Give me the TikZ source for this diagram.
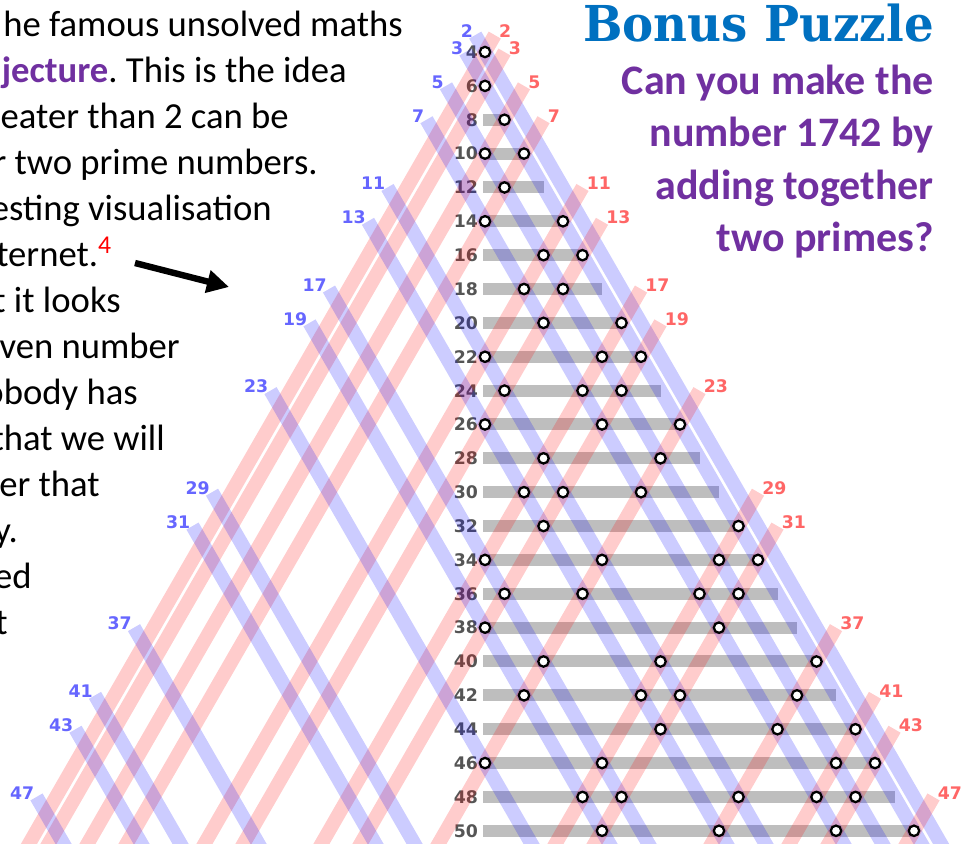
\documentclass[tikz,border=0pt]{standalone}
\usepackage{fontspec}
\setmainfont{Carlito}
\newfontfamily\numfont{DejaVu Sans}
\newfontfamily\titlefont{DejaVu Serif}
\usetikzlibrary{calc,positioning,arrows.meta}
\frenchspacing
\definecolor{stripeblue}{RGB}{0,0,255}
\definecolor{stripered}{RGB}{255,0,0}
\definecolor{labblue}{RGB}{102,102,255}
\definecolor{labred}{RGB}{255,102,102}
\definecolor{rowgray}{RGB}{85,85,85}
\definecolor{bargray}{RGB}{190,190,190}
\definecolor{titleblue}{RGB}{0,112,192}
\definecolor{puzzlepurple}{RGB}{112,48,160}
\newcommand{\primelist}{2,3,5,7,11,13,17,19,23,29,31,37,41,43,47}

\tikzset{
  bluestripe/.style={draw=stripeblue, opacity=0.2, line width=10.5pt},
  redstripe/.style={draw=stripered, opacity=0.2, line width=10.5pt},
  sumbar/.style={draw=bargray, line width=9pt},
  sumdot/.style={circle, draw=black, fill=white, line width=1.7pt, minimum size=7.8pt, inner sep=0pt},
  rowlabel/.style={font=\numfont\bfseries\fontsize{13}{13}\selectfont, text=rowgray, inner sep=0pt, anchor=east},
  primelabel/.style={font=\numfont\bfseries\fontsize{13}{13}\selectfont, inner sep=0pt},
  bodytext/.style={font=\fontsize{27.5}{33}\selectfont, inner sep=0pt, anchor=base east},
  puzzletext/.style={font=\bfseries\fontsize{31.5}{38}\selectfont, text=puzzlepurple, inner sep=0pt, anchor=base east},
}

\begin{document}
\begin{tikzpicture}[x=0.75pt, y=-0.75pt]
\useasboundingbox (0,0) rectangle (966,843);
\clip (0,0) rectangle (966,843);

% the triangle: d = q-p across, n = p+q down
\begin{scope}[shift={(485,-15.72)}, x=7.3125pt, y=-12.6975pt]
  \foreach \n in {8,10,...,50}
    \draw[sumbar] (-0.2,\n) -- (\n-6,\n);
  \foreach \n in {4,6,...,50}
    \node[rowlabel] (row\n) at (-0.7,\n) {\n};
  \foreach \p in \primelist {
    \draw[redstripe] (\p-1,\p+1) -- (2*\p-53,53);
    \draw[bluestripe] (1-\p,\p+1) -- (53-2*\p,53);
  }
  \foreach \p in \primelist {
    \foreach \q in \primelist {
      \pgfmathtruncatemacro{\s}{\p+\q}
      \pgfmathtruncatemacro{\ok}{(\p<=\q)&&(mod(\s,2)==0)&&(\s<=50)}
      \ifnum\ok=1
        \node[sumdot] (dot\p-\q) at (\q-\p,\s) {};
      \fi
    }
  }
  \foreach \p in \primelist {
    \node[primelabel, text=labblue, anchor=east, xshift=-1.5pt, yshift=3pt] (pb\p) at (1-\p,\p+1) {\p};
    \node[primelabel, text=labred, anchor=west, xshift=3pt, yshift=3pt] (pr\p) at (\p-1,\p+1) {\p};
  }
\end{scope}

% text on the left (cut off by the page edge)
\node[bodytext] (txt1) at (403,36) {he famous unsolved maths};
\node[bodytext] (txt2) at (347,82) {\textbf{\color{puzzlepurple}jecture}. This is the idea};
\node[bodytext] (txt3) at (289,128) {eater than 2 can be};
\node[bodytext] (txt4) at (318,174) {r two prime numbers.};
\node[bodytext] (txt5) at (272,220) {esting visualisation};
\node[bodytext] (txt6) at (112,266) {ternet.\textsuperscript{\color{red}4}};
\node[bodytext] (txt7) at (121,312) {t it looks};
\node[bodytext] (txt8) at (180,358) {ven number};
\node[bodytext] (txt9) at (138,404) {obody has};
\node[bodytext] (txt10) at (165,450) {that we will};
\node[bodytext] (txt11) at (100,496) {er that};
\node[bodytext] (txt12) at (18,542) {y.};
\node[bodytext] (txt13) at (32,588) {ed};
\node[bodytext] (txt14) at (8,634) {t};

\coordinate (arrtail) at (135,263);
\coordinate (arrtip) at (229,287);
\draw[line width=4.8pt, -{Triangle[length=16.5pt, width=16.5pt]}] (arrtail) -- (arrtip);

% bonus puzzle
\node[font=\titlefont\bfseries\fontsize{35}{40}\selectfont, text=titleblue, inner sep=0pt, anchor=base east] (bonus) at (934,41) {\scalebox{1}[1.06]{Bonus Puzzle}};
\node[puzzletext] (pz1) at (934,94) {Can you make the};
\node[puzzletext] (pz2) at (934,146.5) {number 1742 by};
\node[puzzletext] (pz3) at (934,199) {adding together};
\node[puzzletext] (pz4) at (934,251.5) {two primes?};
\end{tikzpicture}
\end{document}
